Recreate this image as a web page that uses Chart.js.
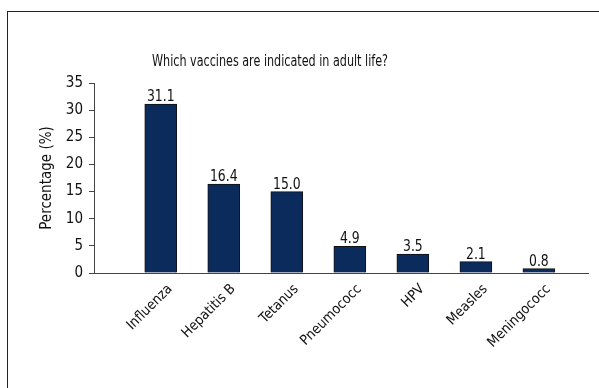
<!DOCTYPE html>
<html>
<head>
<meta charset="utf-8">
<script src="https://cdn.jsdelivr.net/npm/chart.js@4.4.1/dist/chart.umd.min.js"></script>
<style>
  html, body { margin: 0; padding: 0; background: #fff; }
  body { width: 599px; height: 388px; position: relative; overflow: hidden; }
  #frame { position: absolute; left: 7px; top: 11px; width: 700px; height: 500px; border-left: 1px solid #222; border-top: 1px solid #222; }
  #c { position: absolute; left: 0; top: 0; }
</style>
</head>
<body>
<div id="frame"></div>
<canvas id="c" width="599" height="388"></canvas>
<script>
const chartTitle = 'Which vaccines are indicated in adult life?';
const yAxisTitle = 'Percentage (%)';
const categories = ['Influenza', 'Hepatitis B', 'Tetanus', 'Pneumococc', 'HPV', 'Measles', 'Meningococc'];
const percentages = [31.1, 16.4, 15.0, 4.9, 3.5, 2.1, 0.8];
const yTicks = [0, 5, 10, 15, 20, 25, 30, 35];

const FONT = "'Liberation Sans Narrow', 'Arial Narrow', 'DejaVu Sans Condensed', 'Roboto Condensed', 'Liberation Sans', sans-serif";
const BAR = '#0b2b5c';

const labelPlugin = {
  id: 'valueLabels',
  afterDatasetsDraw(chart) {
    const ctx = chart.ctx;
    const meta = chart.getDatasetMeta(0);
    ctx.save();
    ctx.font = '15px ' + FONT;
    ctx.fillStyle = '#111';
    ctx.textAlign = 'center';
    ctx.textBaseline = 'alphabetic';
    meta.data.forEach((bar, i) => {
      const t = percentages[i].toFixed(1);
      ctx.fillText(t, bar.x, bar.y - 3, ctx.measureText(t).width * 0.92);
    });
    ctx.restore();
  }
};

const titlePlugin = {
  id: 'customTitle',
  afterDraw(chart) {
    const ctx = chart.ctx;
    ctx.save();
    ctx.font = '16px ' + FONT;
    ctx.fillStyle = '#111';
    ctx.textAlign = 'center';
    ctx.textBaseline = 'middle';
    ctx.fillText(chartTitle, 270, 62, 236);
    ctx.restore();
  }
};

new Chart(document.getElementById('c'), {
  type: 'bar',
  data: {
    datasets: [{
      data: percentages.map((v, i) => ({ x: i, y: v })),
      backgroundColor: BAR,
      borderColor: '#111',
      borderWidth: 1,
      barThickness: 32
    }]
  },
  options: {
    responsive: false,
    animation: false,
    devicePixelRatio: 1,
    layout: { padding: { left: 0, top: 83, right: 11, bottom: 0 } },
    plugins: { legend: { display: false }, tooltip: { enabled: false }, title: { display: false } },
    scales: {
      x: {
        type: 'linear',
        offset: false,
        min: -1.059,
        max: 6.779,
        grid: { display: false, drawTicks: false, offset: false },
        border: { display: true, color: '#444', width: 1 },
        afterBuildTicks: (scale) => { scale.ticks = categories.map((_, i) => ({ value: i + 0.15 })); },
        afterFit: (scale) => { scale.height = 115; },
        ticks: {
          autoSkip: false,
          minRotation: 45,
          maxRotation: 45,
          padding: 8,
          color: '#111',
          font: { family: FONT, size: 14 },
          callback: (v) => { const k = Math.round(v); return categories[k] !== undefined ? categories[k] : ''; }
        }
      },
      y: {
        min: 0,
        max: 35,
        grid: { drawOnChartArea: false, drawTicks: true, tickLength: 5, color: '#444' },
        border: { display: true, color: '#444', width: 1 },
        afterBuildTicks: (scale) => { scale.ticks = yTicks.map(v => ({ value: v })); },
        afterFit: (scale) => { scale.width = 94; },
        ticks: { padding: 6, color: '#111', font: { family: FONT, size: 15 } },
        title: { display: true, text: yAxisTitle, color: '#111', font: { family: FONT, size: 15 }, padding: { top: 38, bottom: 0 } }
      }
    }
  },
  plugins: [labelPlugin, titlePlugin]
});
</script>
</body>
</html>
